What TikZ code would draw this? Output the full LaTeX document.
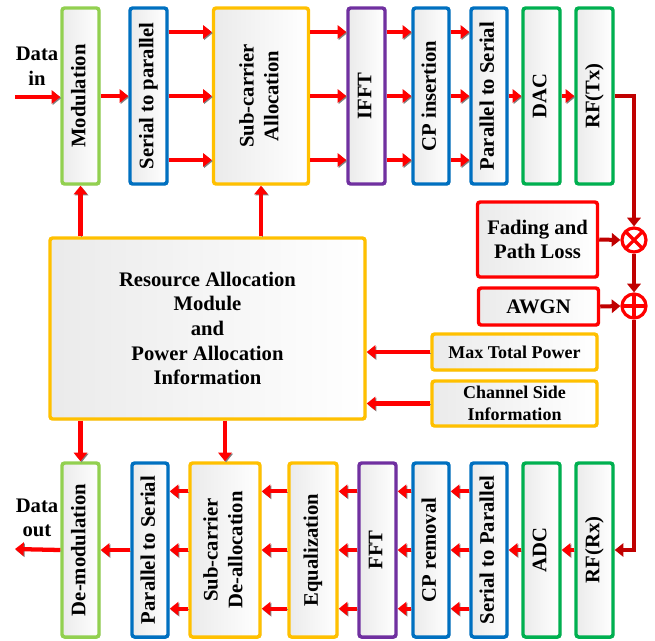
\documentclass[tikz,border=0pt]{standalone}
\usepackage{fontspec}
\setmainfont{Liberation Serif}
\usepackage{tikz}
\usetikzlibrary{arrows.meta,positioning,shadows}
\definecolor{modgreen} {RGB}{146,208, 80}
\definecolor{spblue}   {RGB}{  0,112,192}
\definecolor{allocorg} {RGB}{255,192,  0}
\definecolor{fftpurple}{RGB}{112, 48,160}
\definecolor{rfgreen}  {RGB}{  0,176, 80}
\definecolor{chanred}  {RGB}{192,  0,  0}
\newcommand{\vtext}[1]{\rotatebox{90}{\begin{tabular}{@{}c@{}}#1\end{tabular}}}

\begin{document}
\begin{tikzpicture}[
      x=0.75pt, y=-0.75pt,
      font=\fontsize{15.5}{18.5}\selectfont\bfseries,
      blk/.style={line width=2.6pt, rounded corners=2pt,
                  left color=gray!16, right color=white,
                  drop shadow={shadow xshift=1pt, shadow yshift=-1pt,
                               fill=black!30, opacity=.6},
                  inner sep=0pt, align=center},
      tall/.style={blk, minimum width=27.75pt, minimum height=132pt},
      low/.style={tall, minimum height=130.5pt},
      side/.style={blk, draw=allocorg, minimum width=123.75pt,
                   font=\fontsize{13.5}{16.5}\selectfont\bfseries},
      chbox/.style={blk, draw=red, minimum width=90pt},
      mult/.style={circle, draw=red, line width=2.4pt, fill=white,
                   minimum size=18pt, inner sep=0pt},
      arr/.style={-{Triangle[length=6.5pt,width=10pt]}, red, line width=3.2pt,
                  preaction={draw=black!50,
                             transform canvas={shift={(0.8pt,-0.8pt)}}}},
      chan/.style={chanred, line width=3pt},
      charr/.style={chan, -{Triangle[length=6.5pt,width=10pt]}},
    ]
      \useasboundingbox (0,0) rectangle (655,640);

      % Transmitter
      \node[align=center] (din) at (37,66) {Data\\in};
      \coordinate (dinpt) at (15,97);
      \node[tall, draw=modgreen]  (mod)  at ( 80.5,96) {\vtext{Modulation}};
      \node[tall, draw=spblue]    (s2p)  at (148.5,96) {\vtext{Serial to parallel}};
      \node[tall, draw=allocorg, minimum width=71.25pt] (sub) at (261,96)
            {\vtext{Sub-carrier\\Allocation}};
      \node[tall, draw=fftpurple] (ifft) at (366.5,96) {\vtext{IFFT}};
      \node[tall, draw=spblue, minimum width=27pt] (cpi) at (431,96)
            {\vtext{CP insertion}};
      \node[tall, draw=spblue, minimum width=27pt] (p2s) at (489,96)
            {\vtext{Parallel to Serial}};
      \node[tall, draw=rfgreen]   (dac)  at (541.5,96) {\vtext{DAC}};
      \node[tall, draw=rfgreen]   (rftx) at (594.5,96) {\vtext{RF(Tx)}};

      % Channel
      \node[chbox, minimum height=56.25pt] (fade) at (537.5,239.5)
            {Fading and\\Path Loss};
      \node[chbox, minimum height=27.75pt] (awgn) at (538.5,306.5) {AWGN};
      \node[mult, path picture={\draw[red,line width=2.4pt]
            (path picture bounding box.north west)--(path picture bounding box.south east)
            (path picture bounding box.north east)--(path picture bounding box.south west);}]
            (mul) at (634,240) {};
      \node[mult, path picture={\draw[red,line width=2.4pt]
            (path picture bounding box.north)--(path picture bounding box.south)
            (path picture bounding box.west)--(path picture bounding box.east);}]
            (add) at (634,306) {};

      % Resource allocation
      \node[blk, draw=allocorg, minimum width=236.25pt, minimum height=135.75pt]
            (ra) at (207.5,328.5)
            {Resource Allocation\\Module\\and\\Power Allocation\\Information};
      \node[side, minimum height=27pt]    (maxp) at (514.5,352)   {Max Total Power};
      \node[side, minimum height=33.75pt] (csi)  at (514.5,403.5) {Channel Side\\Information};

      % Receiver
      \node[align=center] (dout) at (37,518) {Data\\out};
      \coordinate (doutpt) at (15,549);
      \node[low, draw=modgreen]  (demod) at ( 80.5,550) {\vtext{De-modulation}};
      \node[low, draw=spblue, minimum width=27pt] (p2sr) at (150,550)
            {\vtext{Parallel to Serial}};
      \node[low, draw=allocorg, minimum width=52.5pt] (subd) at (225,550)
            {\vtext{Sub-carrier\\De-allocation}};
      \node[low, draw=allocorg, minimum width=36pt] (eq) at (313,550)
            {\vtext{Equalization}};
      \node[low, draw=fftpurple] (fft)  at (377.5,550) {\vtext{FFT}};
      \node[low, draw=spblue, minimum width=27pt] (cpr) at (431,550)
            {\vtext{CP removal}};
      \node[low, draw=spblue, minimum width=27pt] (s2pr) at (489,550)
            {\vtext{Serial to Parallel}};
      \node[low, draw=rfgreen]   (adc)  at (541.5,550) {\vtext{ADC}};
      \node[low, draw=rfgreen]   (rfrx) at (594.5,550) {\vtext{RF(Rx)}};

      % Arrows, transmitter
      \draw[arr] (dinpt) -- (dinpt -| mod.west);
      \draw[arr] (mod) -- (s2p);
      \foreach \a/\b in {s2p/sub, sub/ifft, ifft/cpi, cpi/p2s}
        \foreach \d in {48pt,0pt,-48pt}
          \draw[arr] ([yshift=\d]\a.east) -- ([yshift=\d]\b.west);
      \draw[arr] (p2s) -- (dac);
      \draw[arr] (dac) -- (rftx);

      % Arrows, channel
      \draw[charr] (rftx.east) -| (mul.north);
      \draw[charr] (fade.east) -- (mul.west);
      \draw[charr] (mul.south) -- (add.north);
      \draw[charr] (awgn.east) -- (add.west);
      \draw[charr] (add.south) |- (rfrx.east);

      % Arrows, resource allocation
      \draw[arr] (ra.north -| mod) -- (mod.south);
      \draw[arr] (ra.north -| sub) -- (sub.south);
      \draw[arr] (ra.south -| demod) -- (demod.north);
      \draw[arr] (ra.south -| subd) -- (subd.north);
      \draw[arr] (maxp.west) -- (maxp.west -| ra.east);
      \draw[arr] (csi.west) -- (csi.west -| ra.east);

      % Arrows, receiver
      \draw[arr] (rfrx) -- (adc);
      \draw[arr] (adc) -- (s2pr);
      \foreach \a/\b in {s2pr/cpr, cpr/fft, fft/eq, eq/subd, subd/p2sr}
        \foreach \d in {44pt,0pt,-44pt}
          \draw[arr] ([yshift=\d]\a.west) -- ([yshift=\d]\b.east);
      \draw[arr] (p2sr) -- (demod);
      \draw[arr] (demod.west) -- (doutpt);
    \end{tikzpicture}
\end{document}
